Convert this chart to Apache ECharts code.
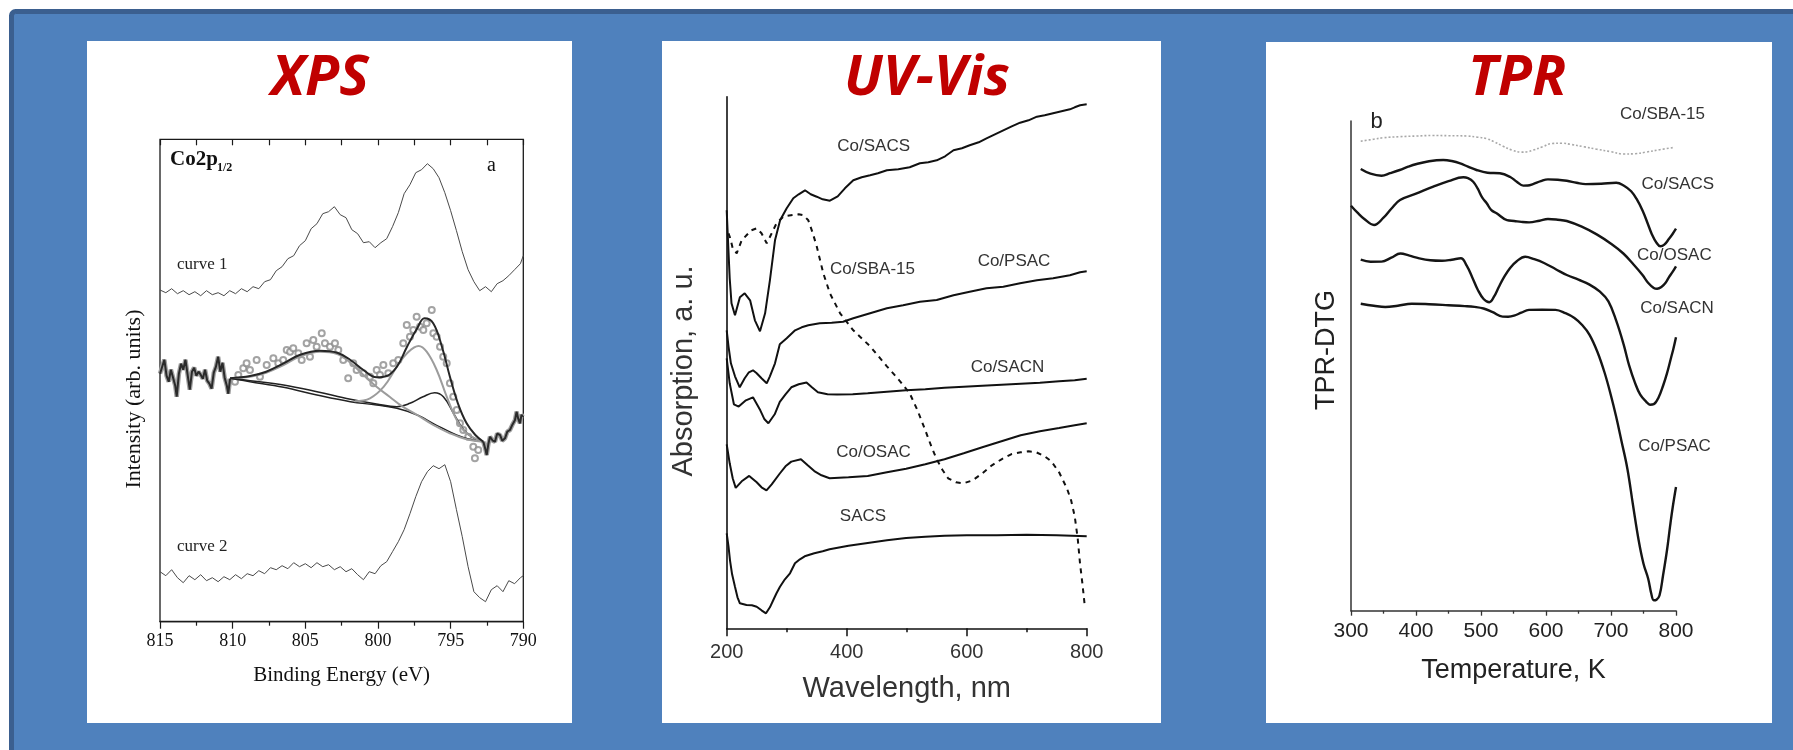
<!DOCTYPE html>
<html>
<head>
<meta charset="utf-8">
<title>XPS / UV-Vis / TPR</title>
<script src="https://cdn.jsdelivr.net/npm/echarts@6/dist/echarts.min.js"></script>
<style>
  html, body { margin: 0; padding: 0; background: #ffffff; }
  #chart { width: 1793px; height: 750px; }
</style>
</head>
<body>
<div id="chart"></div>
<script>
// ---------- XPS, Co2p1/2 region: [binding energy (eV), intensity (arb. units)] ----------
const xpsCurve1 = [[815,331.7],[814.6,329],[814.2,333],[813.8,328],[813.4,331],[813.0,327],[812.6,330],[812.2,326],[811.8,331],[811.4,327],[811.0,329],[810.6,326],[810.2,331],[809.8,328],[809.4,333],[809.0,330],[808.6,335],[808.2,333],[807.8,340],[807.4,342],[807.0,351],[806.6,355],[806.2,363],[805.8,366],[805.4,376],[805.0,381],[804.6,393],[804.2,398],[803.8,408],[803.4,410],[803.0,415],[802.6,407],[802.2,404],[801.8,392],[801.4,388],[801.0,379],[800.6,380],[800.2,374],[799.8,379],[799.4,383],[799.0,395],[798.6,409],[798.2,428],[797.8,437],[797.4,449],[797.0,452],[796.6,458],[796.2,453],[795.8,444],[795.4,429],[795.0,411],[794.6,391],[794.2,370],[793.8,352],[793.4,340],[793.0,331],[792.6,335],[792.2,330],[791.8,338],[791.4,341],[791.0,346],[790.6,352],[790.2,358],[790.0,366]];

const xpsCurve2 = [[815,50],[814.6,46],[814.2,52],[813.8,44],[813.4,39],[813.0,46],[812.6,42],[812.2,47],[811.8,41],[811.4,44],[811.0,40],[810.6,45],[810.2,42],[809.8,47],[809.4,43],[809.0,48],[808.6,46],[808.2,51],[807.8,48],[807.4,54],[807.0,52],[806.6,56],[806.2,53],[805.8,59],[805.4,55],[805.0,58],[804.6,54],[804.2,59],[803.8,55],[803.4,57],[803.0,52],[802.6,55],[802.2,50],[801.8,53],[801.4,47],[801.0,42],[800.6,50],[800.2,48],[799.8,56],[799.4,60],[799.0,70],[798.6,80],[798.2,92],[797.8,108],[797.4,125],[797.0,140],[796.6,150],[796.2,156],[795.8,153],[795.4,157],[795.0,140],[794.6,112],[794.2,85],[793.8,55],[793.4,30],[793.0,24],[792.6,20],[792.2,32],[791.8,36],[791.4,30],[791.0,41],[790.6,38],[790.2,44],[790.0,46]];

// measured spectrum that is fitted (open circles) and its noisy tails outside the fit window
const xpsRawPoints = [[809.84,240],[809.61,246.7],[809.27,253.4],[809.04,258.4],[808.81,251.7],[808.35,261.7],[808.12,245],[807.66,256.7],[807.2,263.4],[806.86,258.4],[806.52,261.7],[806.28,271.7],[806.05,270],[805.83,273.4],[805.48,268.4],[805.25,261.7],[804.91,278.4],[804.68,265],[804.45,281.7],[804.22,275],[803.87,288.4],[803.65,278.4],[803.3,275],[802.96,278.4],[802.73,271.7],[802.39,261.7],[802.05,243.4],[801.7,258.4],[801.47,251.7],[801.01,248.4],[800.55,245],[800.32,238.4],[800.09,251.7],[799.86,246.7],[799.63,256.7],[799.29,248.4],[798.95,258.4],[798.6,261.7],[798.26,278.4],[798.02,296.7],[797.8,285],[797.57,291.7],[797.34,305],[797.11,295],[796.88,291.7],[796.65,298.4],[796.3,311.7],[796.19,288.4],[795.96,285],[795.73,275],[795.51,265],[795.27,258.4],[795.05,238.4],[794.82,225],[794.58,211.7],[794.36,198.4],[794.13,191.7],[793.79,185],[793.44,175],[793.33,163.4],[793.1,171.7]];
const xpsNoiseLow = [[815,248],[814.85,255],[814.7,262],[814.55,246],[814.4,240],[814.25,252],[814.1,244],[813.95,236],[813.85,225],[813.7,248],[813.55,258],[813.4,252],[813.25,262],[813.1,247],[812.95,232],[812.8,250],[812.65,254],[812.5,246],[812.35,250],[812.2,247],[812.05,243],[811.9,252],[811.75,241],[811.6,238],[811.45,233],[811.3,249],[811.15,255],[811.0,265],[810.85,250],[810.7,259],[810.55,244],[810.4,236],[810.3,228],[810.18,243]];
const xpsNoiseHigh = [[792.75,180],[792.6,172],[792.52,166.7],[792.4,178],[792.29,185],[792.1,181],[791.95,180],[791.8,188],[791.6,186.7],[791.45,181],[791.26,183.4],[791.1,190],[790.92,191.7],[790.75,197],[790.57,201.7],[790.46,210],[790.35,203],[790.23,198.4],[790.12,207],[790.04,205]];

// fitted envelope, peak components and backgrounds
const xpsEnvelope = [[810.18,243.4],[808.8,245.7],[807.7,250],[806.5,258.4],[805.4,266.7],[804.0,271],[802.8,269],[801.9,261.7],[801.0,251.7],[800.1,244.4],[799.4,245.7],[798.7,255],[798.0,275],[797.3,293.4],[796.8,303.4],[796.2,298.4],[795.6,275],[795.05,245],[794.5,218.4],[793.9,198.4],[793.3,186.7],[792.75,180]];
const xpsPeakBroad = [[810.18,243.4],[808.8,245],[807.7,249],[806.5,256.7],[805.4,265],[804.0,270],[802.8,267.7],[801.9,259],[801.0,246.7],[800.1,235],[799.2,225],[798.3,215],[797.3,206.7],[796.2,196.7],[795.05,188.4],[793.9,182.4],[792.75,180]];
const xpsPeakMain = [[801.6,220.5],[800.55,223.4],[799.6,235],[798.7,255],[798.0,268.4],[797.2,275.7],[796.65,270],[795.96,251.7],[795.27,225],[794.58,201.7],[793.9,188.4],[792.75,180]];
const xpsPeakSmall = [[810.18,243.4],[808.8,241],[806.5,236.7],[804.2,230],[801.9,222.4],[800.1,217.7],[798.7,215],[797.8,218.4],[796.9,225],[796.1,229],[795.5,225],[794.8,208.4],[794.1,191.7],[793.4,183.4],[792.75,180]];
const xpsBackground = [[810.18,243.4],[808.8,240],[806.5,234.4],[804.2,226.7],[801.9,220],[800.1,216.7],[798.7,213.4],[797.3,206.7],[796.0,196.7],[794.6,186.7],[793.6,182],[792.75,180]];

// ---------- UV-Vis: [wavelength (nm), absorption (a. u., curves offset)] ----------
const uvCoSACS = [[200,418],[202,390],[205,350],[208,325],[213.8,313],[222,331],[230,335],[239,328],[247,308],[255.5,297],[264,315],[272,348],[280.5,388],[289,408],[300,420],[311,430],[320,434],[330.5,438],[340,434],[350,431.6],[360,429],[372,427.6],[385,432],[397,440],[411,448],[425,451],[439,453],[452,455],[467,458],[486,459],[505,461],[522,465],[536,466],[550,468],[564,472],[578,478],[592,480],[605,483],[620,486],[633,490],[647,494],[661,498],[675,502],[689,505.6],[703,508],[717,511.6],[730,513],[744,515],[758,517],[772,519],[780,521],[789,523],[800,524]];
const uvCoSBA15 = [[203,395],[206,390],[210,380],[216.7,375],[225,388],[233,393],[241,398],[250,400],[258,395],[266.7,385],[275,395],[283,405],[295,412],[311,413.3],[320,414],[328,413],[336,408],[343,396],[350,382],[361,355],[372,335],[389,315],[411,298],[439,282],[467,262],[489,247],[505,235],[518,218],[531,198],[541,182],[550,169],[560,158],[569,150],[582,146],[595,145],[610,148],[626,155],[642,163],[658,169],[674,174],[690,176],[703,177],[716,176],[730,172],[741,167],[754,156],[767,140],[774,128],[780,112],[785,90],[789,64],[793,44],[797,21]];
const uvCoPSAC = [[200,298],[203,282],[207,265],[213.8,252],[221.7,241],[230,250],[237,256],[243.8,258],[250,255],[258,250],[266.7,245],[272,252],[280.5,265],[288.5,284],[300,290],[314,298],[325,301],[336,303],[355,305],[375,305.5],[394,306.6],[411,310],[439,315],[467,320],[494,323],[522,326.6],[550,328.3],[578,333],[605,336.6],[633,340],[661,341.6],[689,345],[717,348],[744,350],[772,353],[789,356],[800,357]];
const uvCoSACN = [[200,270],[205,245],[212,224],[220,221.7],[232,228],[243.8,231],[256,218],[263,209],[269.5,205],[280,214],[288.5,226.5],[298,234],[307.7,241],[320,244],[333,245.7],[342,241],[352,236],[368,234],[384,233.7],[410,234],[435,235],[467,236.5],[499,238],[531,239],[563,240.5],[595,241.5],[626,242.5],[658,243.5],[690,244.5],[722,245.5],[754,247],[780,248],[800,249.5]];
const uvCoOSAC = [[200,184],[205,165],[210,150],[215,140.4],[225,147],[237.5,152.4],[250,146],[258,141],[266.3,138],[275,144],[288.5,154.8],[298,162],[307.7,166.7],[323.7,169.1],[335,163],[346,157.2],[358,153],[371.5,150],[403,151],[435,152.4],[467,156],[499,159.6],[531,164],[563,169.1],[595,175],[626,181],[658,187],[690,193],[722,197],[754,200.2],[780,203],[800,205]];
const uvSACS = [[200,95],[203,82],[205.5,68],[209,54],[213.8,41.6],[218,31],[222,25],[233,23.3],[242,23],[250,21.6],[258,18],[265.5,15],[272,21],[277.7,28.3],[283,35],[288.8,41.6],[297,49],[305.5,55],[313.8,65],[322,69],[330,72],[346,75],[360,77],[371.5,79],[403,82.5],[435,85.4],[467,88],[499,90.2],[531,91.5],[563,92.6],[600,93],[650,93],[700,93.5],[750,93],[800,92]];

// ---------- TPR-DTG: [temperature (K), signal (curves offset)] ----------
const tprCoSBA15 = [[315,469.5],[335,471.5],[350,473],[375,474],[401,474.7],[425,475.2],[450,475],[478,474.7],[495,473.5],[509,472],[520,469],[533,464.8],[548,460.5],[562,458.6],[572,459],[580,460.5],[595,464],[609,467.2],[625,467.5],[638,466.3],[658,464],[678,461.5],[700,459],[719,456.7],[737,457],[754,458.6],[775,461],[798,463.4]];
const tprCoSACS = [[315,441.7],[330,437],[347,435],[360,437.5],[375,440.7],[388,444],[401,446.7],[420,449.5],[442,450.7],[455,449.7],[468,447.4],[480,444],[493,440.7],[510,438],[529,437.4],[545,433.7],[555,429],[565,425.1],[572,425.2],[580,426.6],[592,429.5],[603,431.3],[618,431],[632,429.9],[647,428],[661,426.6],[685,427],[708,428],[720,425],[731,419.4],[740,411],[748.5,400.2],[756,388],[763,376.3],[770,368],[776,364.4],[782,366],[789,371.6],[795,377],[800,382]];
const tprCoOSAC = [[300,405],[310,398],[320,392],[335.4,385.7],[350,393],[362,402],[375.4,410.7],[400,417],[426.6,424],[450,429.5],[472.8,433.4],[480,432.5],[488,429],[495,422],[502,413],[508.8,407.4],[516,400.5],[524,397.4],[540,390.5],[551,389.7],[562,388.8],[574,388.3],[590,390],[603,391.7],[618,391],[632,389.7],[655,384],[678,376.3],[700,367],[719,357.2],[735,346],[748.5,335.7],[757,328],[765.8,322.8],[771,322],[777.5,323.7],[784,328],[789,333.3],[795,339],[800,344.3]];
const tprCoSACN = [[315,351],[330,349],[347,349.1],[362,353],[376,357.2],[390,355],[405,352.4],[422,350.5],[440,350],[455,351],[469,352.4],[478,345],[486.6,333.3],[495,321],[504,311.7],[512.8,308.4],[520,314],[527.4,323.7],[535,333],[544.8,342.8],[555,349.5],[568,353.9],[582,351.5],[597,347.7],[615,341.5],[632,335.7],[650,331],[667,326.1],[683,319],[696,309.4],[708,290],[719.4,266.3],[728,245],[736.8,228.1],[745,216],[754.3,208.9],[760,206],[765.8,206.5],[773,213],[780.5,225.7],[786,237],[792,252],[796,262],[800,273.5]];
const tprCoPSAC = [[315,307],[335,305],[352.8,303.7],[372,305],[393.5,307],[420,306.5],[450,305.5],[475,304.6],[490,303.8],[504,302.2],[518,298.5],[533.2,294.1],[542,294],[550.8,295],[562,298],[573.8,300.8],[594,301],[614.6,300.8],[630,297.5],[643.7,292.7],[656,285.5],[667,275.9],[679,259],[690.3,237.7],[700,215],[707.7,194.6],[716,170],[725.2,142],[734,105],[742.6,70.2],[750,47],[757.2,32],[762,17],[765.8,10.4],[770,11],[774.6,15.2],[780,35],[786.2,60.7],[791,85],[795,103.7],[800,123.7]];

// ---------- drawing ----------
const SERIF = '"Liberation Serif", "Times New Roman", serif';
const SANS = '"Liberation Sans", Arial, sans-serif';
const TITLE_FONT = '"Open Sans", "Liberation Sans", sans-serif';

const chart = echarts.init(document.getElementById('chart'), null, { renderer: 'canvas', width: 1793, height: 750 });

function line(data, xi, yi, color, width, extra) {
  return Object.assign({
    type: 'line', data: data, xAxisIndex: xi, yAxisIndex: yi,
    showSymbol: false, symbol: 'none', silent: true, animation: false,
    lineStyle: { color: color, width: width }, z: 3
  }, extra || {});
}

function label(text, x, y, opts, rotation) {
  return {
    type: 'text', x: x, y: y, z: 10, silent: true, rotation: rotation || 0,
    style: Object.assign({ text: text, align: 'center', verticalAlign: 'middle',
      fill: '#333', fontFamily: SANS, fontSize: 17 }, opts || {})
  };
}

function title(text, x) {
  return label(text, x, 79, { fill: '#C00000', fontFamily: TITLE_FONT, fontSize: 56,
    fontWeight: 'bold', fontStyle: 'italic' });
}

const UP = Math.PI / 2;

const graphics = [
  // slide background with its frame
  { type: 'rect', z: -100, silent: true, shape: { x: 11.5, y: 11.5, width: 1800, height: 760, r: 4 },
    style: { fill: '#4F81BD', stroke: '#3B5F8F', lineWidth: 5 } },
  // three white panels
  { type: 'rect', z: -90, silent: true, shape: { x: 87, y: 41, width: 485, height: 682 }, style: { fill: '#ffffff' } },
  { type: 'rect', z: -90, silent: true, shape: { x: 662, y: 41, width: 499, height: 682 }, style: { fill: '#ffffff' } },
  { type: 'rect', z: -90, silent: true, shape: { x: 1266, y: 42, width: 506, height: 681 }, style: { fill: '#ffffff' } },
  title('XPS', 320),
  title('UV-Vis', 927),
  title('TPR', 1517),
  // vertical axis titles
  label('Intensity (arb. units)', 134, 399, { fontFamily: SERIF, fontSize: 22, fill: '#111' }, UP),
  label('Absorption, a. u.', 684, 371, { fontFamily: SANS, fontSize: 29, fill: '#333' }, UP),
  label('TPR-DTG', 1326.7, 350, { fontFamily: SANS, fontSize: 27, fill: '#222' }, UP),
  // XPS annotations
  label('Co2p', 170, 160, { align: 'left', fontFamily: SERIF, fontWeight: 'bold', fontSize: 21, fill: '#111' }),
  label('1/2', 217, 168, { align: 'left', fontFamily: SERIF, fontWeight: 'bold', fontSize: 12, fill: '#111' }),
  label('a', 491.5, 166, { fontFamily: SERIF, fontSize: 20, fill: '#111' }),
  label('curve 1', 177, 265, { align: 'left', fontFamily: SERIF, fontSize: 17, fill: '#222' }),
  label('curve 2', 177, 547, { align: 'left', fontFamily: SERIF, fontSize: 17, fill: '#222' }),
  // UV-Vis curve names
  label('Co/SACS', 873.7, 146),
  label('Co/SBA-15', 872.5, 269.3),
  label('Co/PSAC', 1014, 261.7),
  label('Co/SACN', 1007.5, 367.3),
  label('Co/OSAC', 873.5, 452),
  label('SACS', 863, 516.6),
  // TPR curve names
  label('b', 1376.7, 122, { fontSize: 22, fill: '#222' }),
  label('Co/SBA-15', 1662.5, 114.8),
  label('Co/SACS', 1677.8, 184),
  label('Co/OSAC', 1674.4, 255),
  label('Co/SACN', 1677, 308.5),
  label('Co/PSAC', 1674.5, 446.3)
];

const hiddenY = (gi, max, showLine, color, width) => ({
  gridIndex: gi, type: 'value', min: 0, max: max,
  axisLine: { show: showLine, lineStyle: { color: color || '#111', width: width || 1.5 } },
  axisTick: { show: false }, axisLabel: { show: false }, splitLine: { show: false }
});

const option = {
  backgroundColor: '#ffffff',
  animation: false,
  graphic: graphics,
  grid: [
    { left: 160, top: 139.3, width: 363.3, height: 482.4, show: true, borderColor: '#1a1a1a', borderWidth: 1.3, backgroundColor: 'transparent' },
    { left: 726.7, top: 96.7, width: 360, height: 531.6 },
    { left: 1351, top: 121, width: 325, height: 489.7 }
  ],
  xAxis: [
    { gridIndex: 0, type: 'value', min: 790, max: 815, interval: 5, inverse: true, position: 'bottom',
      axisLine: { show: true, lineStyle: { color: '#1a1a1a', width: 1.3 } },
      axisTick: { show: true, inside: false, length: 7, lineStyle: { color: '#1a1a1a', width: 1.2 } },
      minorTick: { show: true, splitNumber: 2, length: 4, lineStyle: { color: '#1a1a1a', width: 1.2 } },
      splitLine: { show: false },
      axisLabel: { fontFamily: SERIF, fontSize: 18, color: '#111', margin: 11 },
      name: 'Binding Energy (eV)', nameLocation: 'middle', nameGap: 43,
      nameTextStyle: { fontFamily: SERIF, fontSize: 21, color: '#111' } },
    { gridIndex: 0, type: 'value', min: 790, max: 815, interval: 5, inverse: true, position: 'top',
      axisLine: { show: false },
      axisTick: { show: true, inside: true, length: 6, lineStyle: { color: '#1a1a1a', width: 1.2 } },
      minorTick: { show: true, splitNumber: 2, length: 6, lineStyle: { color: '#1a1a1a', width: 1.2 } },
      splitLine: { show: false }, axisLabel: { show: false } },
    { gridIndex: 1, type: 'value', min: 200, max: 800, interval: 200,
      axisLine: { show: true, lineStyle: { color: '#111', width: 1.6 } },
      axisTick: { show: true, inside: false, length: 8, lineStyle: { color: '#111', width: 1.5 } },
      minorTick: { show: true, splitNumber: 2, length: 4, lineStyle: { color: '#111', width: 1.5 } },
      splitLine: { show: false },
      axisLabel: { fontFamily: SANS, fontSize: 20, color: '#333', margin: 14 },
      name: 'Wavelength, nm', nameLocation: 'middle', nameGap: 46,
      nameTextStyle: { fontFamily: SANS, fontSize: 29, color: '#333' } },
    { gridIndex: 2, type: 'value', min: 300, max: 800, interval: 100,
      axisLine: { show: true, lineStyle: { color: '#333', width: 1.5 } },
      axisTick: { show: true, inside: false, length: 5, lineStyle: { color: '#333', width: 1.3 } },
      minorTick: { show: true, splitNumber: 2, length: 3, lineStyle: { color: '#333', width: 1.3 } },
      splitLine: { show: false },
      axisLabel: { fontFamily: SANS, fontSize: 21, color: '#222', margin: 10 },
      name: 'Temperature, K', nameLocation: 'middle', nameGap: 46,
      nameTextStyle: { fontFamily: SANS, fontSize: 27, color: '#222' } }
  ],
  yAxis: [
    hiddenY(0, 482.4, false),
    hiddenY(1, 531.6, true, '#111', 1.6),
    hiddenY(2, 489.7, true, '#333', 1.5)
  ],
  series: [
    // XPS
    line(xpsCurve1, 0, 0, '#4a4a4a', 1),
    line(xpsCurve2, 0, 0, '#4a4a4a', 1),
    { type: 'scatter', data: xpsRawPoints, xAxisIndex: 0, yAxisIndex: 0, silent: true, animation: false,
      symbol: 'emptyCircle', symbolSize: 6, itemStyle: { color: '#8c8c8c', borderWidth: 1 }, z: 2 },
    line(xpsBackground, 0, 0, '#222', 1.4, { smooth: 0.4 }),
    line(xpsPeakSmall, 0, 0, '#222', 1.6, { smooth: 0.4 }),
    line(xpsPeakBroad, 0, 0, '#9c9c9c', 2, { smooth: 0.4 }),
    line(xpsPeakMain, 0, 0, '#9c9c9c', 2, { smooth: 0.4 }),
    line(xpsEnvelope, 0, 0, '#262626', 2, { smooth: 0.4 }),
    // noisy tails: a grey halo under a dark trace
    line(xpsNoiseLow, 0, 0, '#a0a0a0', 4.5, { z: 2 }),
    line(xpsNoiseHigh, 0, 0, '#a0a0a0', 4.5, { z: 2 }),
    line(xpsNoiseLow, 0, 0, '#2a2a2a', 2),
    line(xpsNoiseHigh, 0, 0, '#2a2a2a', 2),
    // UV-Vis
    line(uvCoSACS, 2, 1, '#111', 2),
    line(uvCoSBA15, 2, 1, '#111', 2, { lineStyle: { color: '#111', width: 2, type: [5, 5] } }),
    line(uvCoPSAC, 2, 1, '#111', 2),
    line(uvCoSACN, 2, 1, '#111', 2),
    line(uvCoOSAC, 2, 1, '#111', 2),
    line(uvSACS, 2, 1, '#111', 2),
    // TPR
    line(tprCoSBA15, 3, 2, '#a8a8a8', 1.6, { smooth: 0.4, lineStyle: { color: '#a8a8a8', width: 1.6, type: [2, 2] } }),
    line(tprCoSACS, 3, 2, '#151515', 2.4, { smooth: 0.4 }),
    line(tprCoOSAC, 3, 2, '#151515', 2.4, { smooth: 0.4 }),
    line(tprCoSACN, 3, 2, '#151515', 2.4, { smooth: 0.4 }),
    line(tprCoPSAC, 3, 2, '#151515', 2.4, { smooth: 0.4 })
  ]
};

chart.setOption(option);
</script>
</body>
</html>
